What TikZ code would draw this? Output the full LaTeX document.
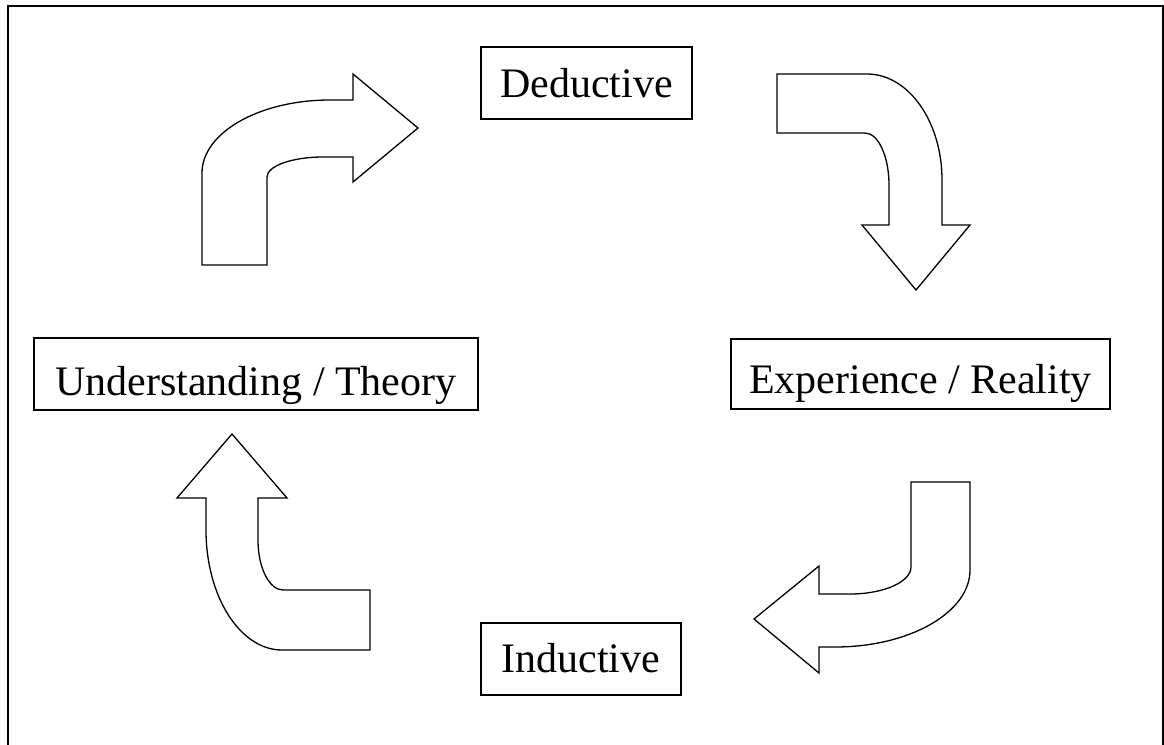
\documentclass[tikz,border=0pt]{standalone}
\usepackage{fontspec}
\setmainfont{Liberation Serif}
\begin{document}
\begin{tikzpicture}[x=1pt,y=-1pt,
  stage/.style={draw=black,line width=1.9pt,inner sep=0pt,anchor=base west,
    font=\fontsize{42}{48}\selectfont},
  bigarrow/.style={draw=black,line width=1.3pt,fill=white,line join=miter}]
\useasboundingbox (0,0) rectangle (1164,744);
\clip (0,0) rectangle (1164,744);
% outer frame, running past the bottom edge
\draw[line width=2.2pt] (8,5.7) rectangle (1163,770);

% the four stages
\node[stage,minimum width=211pt,text height=50pt,text depth=22pt] (ded) at (480,97) {Deductive};
\node[stage,minimum width=379pt,text height=54pt,text depth=16pt] (exp) at (730,393) {Experience / Reality};
\node[stage,minimum width=200pt,text height=49pt,text depth=23pt] (ind) at (480,672) {Inductive};
\node[stage,minimum width=444pt,text height=57pt,text depth=15pt] (und) at (33,395) {Understanding / Theory};

% bent block arrows around the cycle
% theory -> deductive (up, then right)
\draw[bigarrow] (202,265) -- (202,173)
  .. controls (202,132.7) and (259.3,100) .. (330,100)
  -- (353,100) -- (353,74) -- (418,128) -- (353,182) -- (353,157) -- (323,157)
  .. controls (292.1,157) and (267,166) .. (267,177)
  -- (267,265) -- cycle;
% deductive -> experience (right, then down)
\draw[bigarrow] (777,74) -- (867,74)
  .. controls (908.4,74) and (942,121.5) .. (942,180)
  -- (942,225) -- (970,225) -- (916,290) -- (862,225) -- (889,225) -- (889,185)
  .. controls (889,156.3) and (878.2,133) .. (865,133)
  -- (777,133) -- cycle;
% experience -> inductive (down, then left)
\draw[bigarrow] (911,482) -- (970,482) -- (970,570)
  .. controls (970,612.5) and (909.5,647) .. (835,647)
  -- (819,647) -- (819,673) -- (754,619) -- (819,566) -- (819,594) -- (850,594)
  .. controls (883.7,594) and (911,581.9) .. (911,567)
  -- cycle;
% inductive -> theory (left, then up)
\draw[bigarrow] (232,434) -- (287,498) -- (258,498) -- (258,540)
  .. controls (258,567.6) and (269.2,590) .. (283,590)
  -- (370,590) -- (370,650) -- (282,650)
  .. controls (240,650) and (206,596.2) .. (206,530)
  -- (206,498) -- (177,498) -- cycle;
\end{tikzpicture}
\end{document}
